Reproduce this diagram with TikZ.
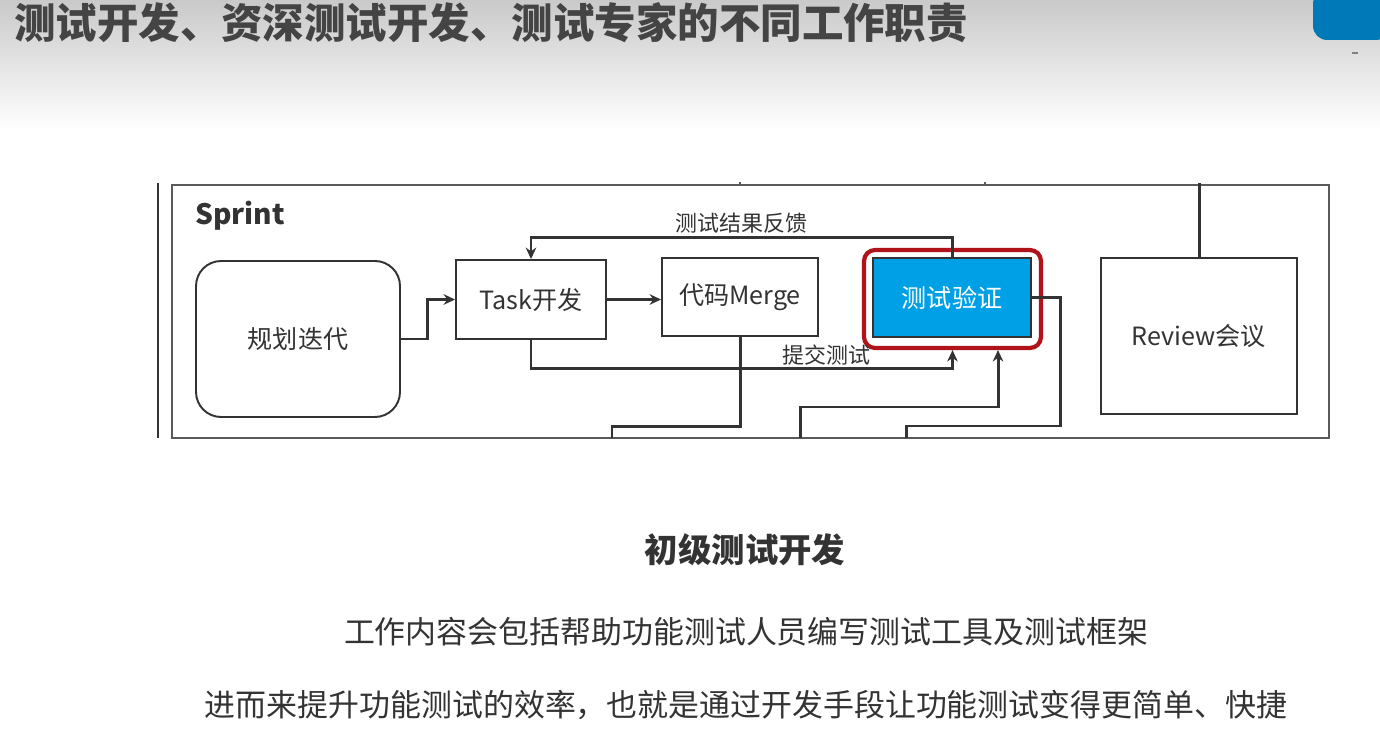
\documentclass[tikz,border=0pt]{standalone}
\usepackage{fontspec}
\setmainfont{Noto Sans CJK SC}
\usetikzlibrary{arrows.meta,positioning,calc}
\definecolor{ink}{HTML}{333333}
\definecolor{titlegray}{HTML}{444444}
\definecolor{framegray}{HTML}{5A5A5A}
\definecolor{testblue}{HTML}{00A0E6}
\definecolor{hlred}{HTML}{B0141A}
\definecolor{tabblue}{HTML}{0079B8}

\begin{document}
\begin{tikzpicture}[x=0.02cm, y=-0.02cm,
    box/.style={draw=ink, line width=1.1pt, minimum width=3cm, minimum height=1.58cm, inner sep=0pt, align=center, font=\fontsize{14.3}{16}\selectfont, text=ink},
    conn/.style={-{Stealth[length=6.5pt,width=6pt]}, line width=1.7pt, draw=ink},
    wire/.style={line width=1.7pt, draw=ink},
    lbl/.style={font=\fontsize{12.5}{14}\selectfont, text=ink, inner sep=1pt}
]
\useasboundingbox (0,0) rectangle (1380,750);
\fill[white] (0,0) rectangle (1380,750);
\shade[top color=black!21, bottom color=white] (0,0) rectangle (1380,130);

% title and slide bits
\node[anchor=west, text=titlegray, font=\fontsize{23.6}{26}\selectfont\bfseries] (title) at (8,23) {测试开发、资深测试开发、测试专家的不同工作职责};
\fill[tabblue, rounded corners=8pt] (1313,-10) rectangle (1390,40);
\draw[gray, line width=0.6pt] (1352,53) -- (1358,53);

% sprint frame
\draw[line width=1.6pt, draw=ink] (158,183) -- (158,438);
\node[draw=framegray, line width=1.1pt, minimum width=23.14cm, minimum height=5.06cm, inner sep=0pt] (sprint) at (750.5,311.5) {};
\node[anchor=west, text=ink, font=\fontsize{16}{19}\selectfont\bfseries] (sprintlbl) at (189,216) {Sprint};
\draw[framegray, line width=0.8pt] (740,182) -- (740,186);
\draw[framegray, line width=0.8pt] (985,182) -- (985,186);

% boxes
\node[box, rounded corners=0.5cm, minimum width=4.08cm, minimum height=3.12cm] (plan) at (298,339) {规划迭代};
\node[box] (task) at (531,299.5) {Task开发};
\node[box, minimum width=3.12cm, minimum height=1.56cm] (merge) at (740,297) {代码Merge};
\node[box, minimum width=3.16cm, fill=testblue, text=white] (verify) at (952,297.5) {测试验证};
\node[draw=hlred, line width=2.4pt, rounded corners=0.22cm, minimum width=3.54cm, minimum height=1.96cm, inner sep=0pt] (hl) at (952.5,299) {};
\node[box, minimum width=3.92cm, minimum height=3.12cm] (review) at (1199,336) {Review会议};

% free ends
\coordinate (rvtop) at (1199,183);
\coordinate (mergeout) at (612,438);
\coordinate (verifyin) at (800,438);
\coordinate (verifyout) at (906,438);

% connectors
\draw[conn] (plan.east) -- ++(27,0) |- (task.west);
\draw[conn] (task.east) -- (task.east -| merge.west);
\draw[conn] (verify.north) -- ++(0,-20) -| node[lbl, above, pos=0.25] {测试结果反馈} (task.north);
\draw[conn] (task.south) -- ++(0,29) -| node[lbl, above, pos=0.35] {提交测试} (hl.south);
\draw[wire] (merge.south) -- ++(0,90) -| (mergeout);
\draw[conn] (verifyin) -- ++(0,-31) -| (998,0 |- hl.south);
\draw[wire] (verify.east) -- ++(29,0) |- (verifyout |- 0,426) -- (verifyout);
\draw[wire] (review.north) -- (rvtop);

% text below
\node[text=ink, font=\fontsize{19}{22}\selectfont\bfseries] (level) at (745,550) {初级测试开发};
\node[text=ink, font=\fontsize{17.6}{20}\selectfont] (line1) at (746,632) {工作内容会包括帮助功能测试人员编写测试工具及测试框架};
\node[text=ink, font=\fontsize{17.6}{20}\selectfont] (line2) at (746,705) {进而来提升功能测试的效率，也就是通过开发手段让功能测试变得更简单、快捷};
\end{tikzpicture}
\end{document}
